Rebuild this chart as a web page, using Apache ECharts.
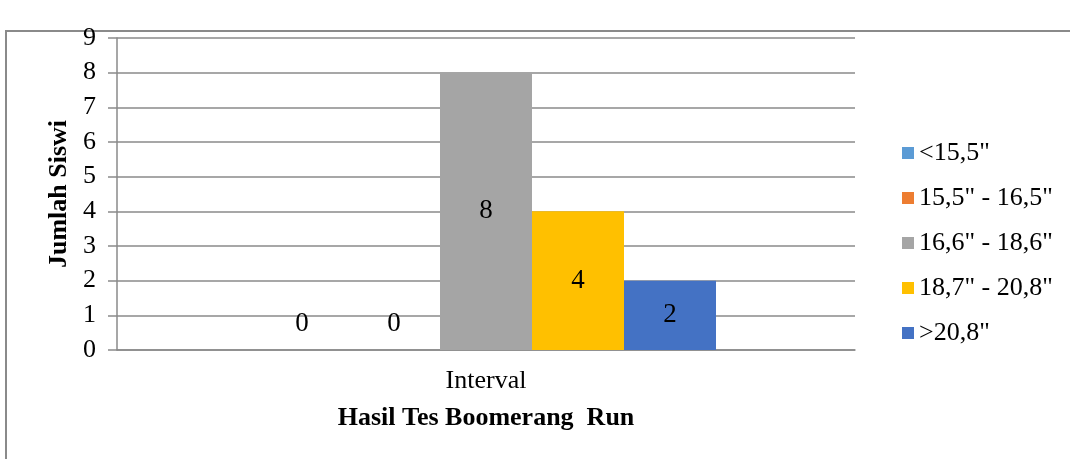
<!DOCTYPE html>
<html>
<head>
<meta charset="utf-8">
<script src="https://cdn.jsdelivr.net/npm/echarts@6/dist/echarts.min.js"></script>
<style>
html,body{margin:0;padding:0;background:#fff;}
#c{width:1070px;height:459px;}
</style>
</head>
<body>
<div id="c"></div>
<script>
const categories = ["Interval"];
const seriesNames = ['<15,5"', '15,5" - 16,5"', '16,6" - 18,6"', '18,7" - 20,8"', '>20,8"'];
const seriesValues = [[0], [0], [8], [4], [2]];
const colors = ["#5B9BD5", "#ED7D31", "#A5A5A5", "#FFC000", "#4472C4"];
const yTicks = { min: 0, max: 9, interval: 1 };
const xAxisTitle = "Hasil Tes Boomerang  Run";
const yAxisTitle = "Jumlah Siswi";

const font = "'Liberation Serif', 'Times New Roman', serif";
const chart = echarts.init(document.getElementById('c'));
const series = seriesNames.map((n, i) => ({
  name: n,
  type: 'bar',
  data: seriesValues[i],
  barWidth: 92,
  barGap: '0%',
  itemStyle: { color: colors[i] },
  label: {
    show: true,
    position: seriesValues[i][0] === 0 ? 'top' : 'inside',
    distance: 13,
    color: '#000',
    fontFamily: font,
    fontSize: 27
  }
}));
chart.setOption({
  animation: false,
  color: colors,
  graphic: [{
    type: 'rect',
    shape: { x: 6, y: 31, width: 1200, height: 600 },
    style: { fill: 'none', stroke: '#8a8a8a', lineWidth: 2 },
    silent: true
  }],
  grid: { left: 117, right: 215, top: 38, bottom: 109 },
  legend: {
    orient: 'vertical',
    left: 897,
    top: 135,
    itemWidth: 12,
    itemHeight: 12,
    itemGap: 19,
    itemStyle: { borderWidth: 0 },
    icon: 'rect',
    textStyle: { fontFamily: font, fontSize: 26, lineHeight: 26, color: '#000' },
    data: seriesNames
  },
  xAxis: {
    type: 'category',
    data: categories,
    name: xAxisTitle,
    nameLocation: 'middle',
    nameGap: 55,
    nameTextStyle: { fontFamily: font, fontSize: 26, fontWeight: 'bold', color: '#000' },
    axisLine: { lineStyle: { color: '#8a8a8a', width: 1.5 } },
    axisTick: { show: false },
    axisLabel: { fontFamily: font, fontSize: 26, color: '#000', margin: 18 }
  },
  yAxis: {
    type: 'value',
    min: yTicks.min,
    max: yTicks.max,
    interval: yTicks.interval,
    name: yAxisTitle,
    nameLocation: 'middle',
    nameGap: 45,
    nameTextStyle: { fontFamily: font, fontSize: 26, fontWeight: 'bold', color: '#000' },
    axisLine: { show: true, lineStyle: { color: '#8a8a8a', width: 1.5 } },
    axisTick: { show: true, length: 9, lineStyle: { color: '#8a8a8a', width: 1.5 } },
    axisLabel: { fontFamily: font, fontSize: 26, color: '#000', margin: 21 },
    splitLine: { lineStyle: { color: '#8a8a8a', width: 1.5 } }
  },
  series: series
});
</script>
</body>
</html>
